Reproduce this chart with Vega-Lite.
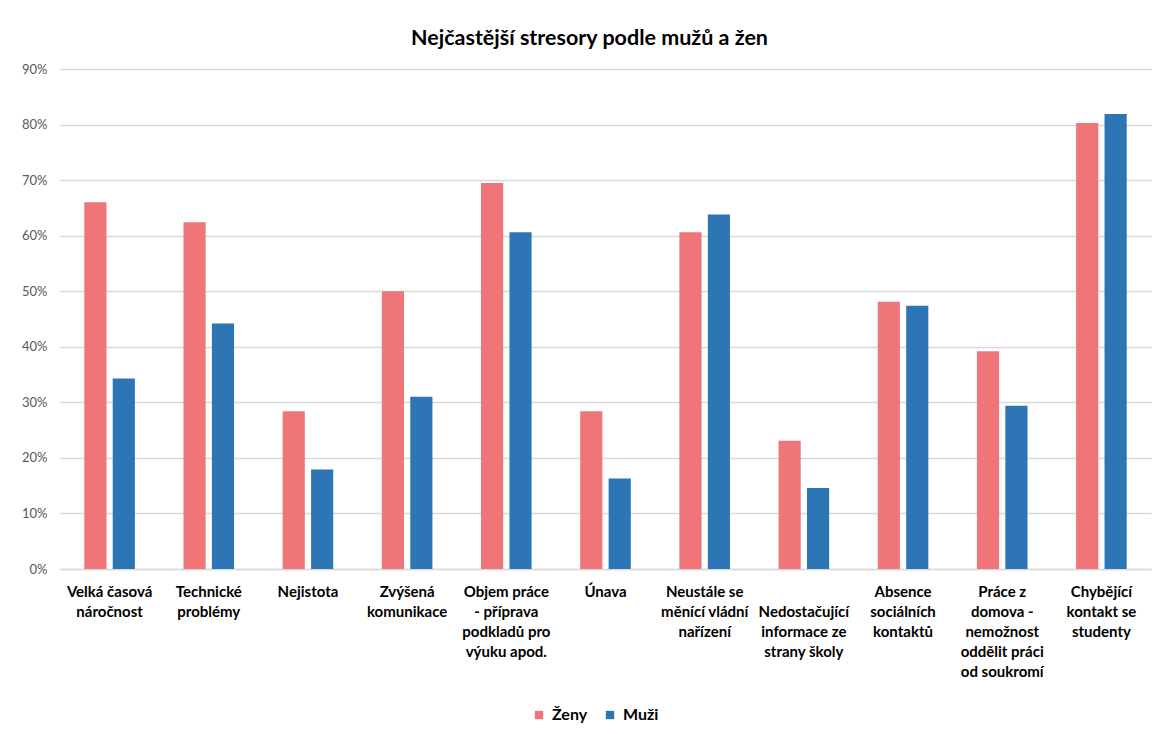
{
  "$schema": "https://vega.github.io/schema/vega-lite/v6.json",
  "width": 1091,
  "height": 500,
  "autosize": {"type": "none"},
  "padding": {"left": 60, "top": 69, "right": 7, "bottom": 165},
  "background": "white",
  "title": {
    "text": "Nejčastější stresory podle mužů a žen",
    "font": "Lato",
    "fontSize": 21.5,
    "fontWeight": "bold",
    "color": "#000000",
    "anchor": "middle",
    "offset": 14,
    "dx": -16
  },
  "config": {
    "view": {"stroke": null},
    "font": "Lato"
  },
  "data": {
    "values": [
      {"kategorie": "Velká časová|náročnost", "pohlavi": "Ženy", "hodnota": 0.660},
      {"kategorie": "Velká časová|náročnost", "pohlavi": "Muži", "hodnota": 0.343},
      {"kategorie": "Technické|problémy", "pohlavi": "Ženy", "hodnota": 0.624},
      {"kategorie": "Technické|problémy", "pohlavi": "Muži", "hodnota": 0.442},
      {"kategorie": "Nejistota", "pohlavi": "Ženy", "hodnota": 0.284},
      {"kategorie": "Nejistota", "pohlavi": "Muži", "hodnota": 0.179},
      {"kategorie": "Zvýšená|komunikace", "pohlavi": "Ženy", "hodnota": 0.500},
      {"kategorie": "Zvýšená|komunikace", "pohlavi": "Muži", "hodnota": 0.310},
      {"kategorie": "Objem práce|- příprava|podkladů pro|výuku apod.", "pohlavi": "Ženy", "hodnota": 0.695},
      {"kategorie": "Objem práce|- příprava|podkladů pro|výuku apod.", "pohlavi": "Muži", "hodnota": 0.606},
      {"kategorie": "Únava", "pohlavi": "Ženy", "hodnota": 0.284},
      {"kategorie": "Únava", "pohlavi": "Muži", "hodnota": 0.163},
      {"kategorie": "Neustále se|měnící vládní|nařízení", "pohlavi": "Ženy", "hodnota": 0.606},
      {"kategorie": "Neustále se|měnící vládní|nařízení", "pohlavi": "Muži", "hodnota": 0.638},
      {"kategorie": " |Nedostačující|informace ze|strany školy", "pohlavi": "Ženy", "hodnota": 0.231},
      {"kategorie": " |Nedostačující|informace ze|strany školy", "pohlavi": "Muži", "hodnota": 0.146},
      {"kategorie": "Absence|sociálních|kontaktů", "pohlavi": "Ženy", "hodnota": 0.481},
      {"kategorie": "Absence|sociálních|kontaktů", "pohlavi": "Muži", "hodnota": 0.474},
      {"kategorie": "Práce z|domova -|nemožnost|oddělit práci|od soukromí", "pohlavi": "Ženy", "hodnota": 0.392},
      {"kategorie": "Práce z|domova -|nemožnost|oddělit práci|od soukromí", "pohlavi": "Muži", "hodnota": 0.294},
      {"kategorie": "Chybějící|kontakt se|studenty", "pohlavi": "Ženy", "hodnota": 0.803},
      {"kategorie": "Chybějící|kontakt se|studenty", "pohlavi": "Muži", "hodnota": 0.819}
    ]
  },
  "mark": {"type": "bar"},
  "encoding": {
    "x": {
      "field": "kategorie",
      "type": "nominal",
      "sort": null,
      "scale": {"paddingInner": 0.49, "paddingOuter": 0.245},
      "axis": {
        "title": null,
        "labelExpr": "split(datum.label, '|')",
        "labelAngle": 0,
        "labelFont": "Lato",
        "labelFontSize": 15,
        "labelFontWeight": "bold",
        "labelColor": "#000000",
        "labelLineHeight": 20,
        "labelPadding": 15,
        "labelLimit": 0,
        "labelOverlap": false,
        "labelBound": false,
        "ticks": false,
        "domainColor": "#D9D9D9",
        "domainWidth": 1.5,
        "grid": false
      }
    },
    "xOffset": {
      "field": "pohlavi",
      "type": "nominal",
      "sort": ["Ženy", "Muži"],
      "scale": {"paddingInner": 0.22, "paddingOuter": 0}
    },
    "y": {
      "field": "hodnota",
      "type": "quantitative",
      "scale": {"domain": [0, 0.9], "nice": false},
      "axis": {
        "title": null,
        "format": ".0%",
        "values": [0, 0.1, 0.2, 0.3, 0.4, 0.5, 0.6, 0.7, 0.8, 0.9],
        "labelFont": "Lato",
        "labelFontSize": 13,
        "labelColor": "#595959",
        "labelPadding": 13,
        "ticks": false,
        "domain": false,
        "grid": true,
        "gridColor": "#D9D9D9",
        "gridWidth": 1.3
      }
    },
    "color": {
      "field": "pohlavi",
      "type": "nominal",
      "scale": {"domain": ["Ženy", "Muži"], "range": ["#F07578", "#2E75B6"]},
      "legend": {
        "title": null,
        "orient": "none",
        "direction": "horizontal",
        "legendX": 471,
        "legendY": 638,
        "symbolType": "square",
        "symbolSize": 70,
        "symbolStrokeWidth": 0,
        "labelFont": "Lato",
        "labelFontSize": 16,
        "labelFontWeight": "bold",
        "labelColor": "#000000",
        "labelOffset": 5,
        "columnPadding": 14
      }
    }
  }
}
